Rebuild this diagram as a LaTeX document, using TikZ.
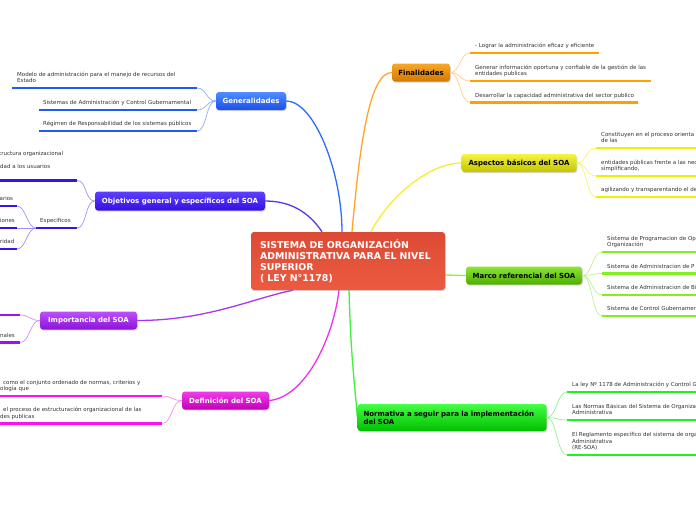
\documentclass[tikz,border=0pt]{standalone}
\usepackage{fontspec}
\setmainfont{DejaVu Sans}
\usetikzlibrary{shadows,backgrounds}
\definecolor{cenT}{HTML}{DC4A35}\definecolor{cenB}{HTML}{EC5B40}
\definecolor{genT}{HTML}{4F8DFF}\definecolor{genB}{HTML}{1B4FEA}\definecolor{genL}{HTML}{2E6BFF}\definecolor{genU}{HTML}{1E5AF5}
\definecolor{objT}{HTML}{5C40FF}\definecolor{objB}{HTML}{3510E0}\definecolor{objL}{HTML}{5A35F0}\definecolor{objU}{HTML}{3A10F0}
\definecolor{impT}{HTML}{BC50FF}\definecolor{impB}{HTML}{8A14D6}\definecolor{impL}{HTML}{A838F0}\definecolor{impU}{HTML}{A010F0}
\definecolor{defT}{HTML}{F23CEB}\definecolor{defB}{HTML}{C000B8}\definecolor{defL}{HTML}{F030EE}\definecolor{defU}{HTML}{FF10EE}
\definecolor{finT}{HTML}{F8A828}\definecolor{finB}{HTML}{D27800}\definecolor{finL}{HTML}{FFA628}\definecolor{finU}{HTML}{FFA000}
\definecolor{aspT}{HTML}{F4F444}\definecolor{aspB}{HTML}{C4C400}\definecolor{aspL}{HTML}{F4F030}\definecolor{aspU}{HTML}{F0F000}
\definecolor{marT}{HTML}{8EE636}\definecolor{marB}{HTML}{4DAE00}\definecolor{marL}{HTML}{90F040}\definecolor{marU}{HTML}{80F020}
\definecolor{norT}{HTML}{44FF44}\definecolor{norB}{HTML}{00BE00}\definecolor{norL}{HTML}{40F040}\definecolor{norU}{HTML}{20F020}
\definecolor{leafc}{HTML}{333333}
\newcommand\leafdp{\vrule width 0pt depth 1.2pt height 0pt}
\begin{document}
\begin{tikzpicture}[x=1pt,y=-1pt,
 topic/.style={rounded corners=3pt, inner sep=0pt, font=\fontsize{7}{8.4}\selectfont\bfseries, minimum height=18pt, drop shadow={opacity=0.3,shadow xshift=0.8pt,shadow yshift=-1.2pt}},
 leaf/.style={inner sep=0pt, anchor=south west, align=left, text=leafc, font=\fontsize{5.5}{6.6}\selectfont},
 bleaf/.style={inner sep=0pt, anchor=base west, text=leafc, font=\fontsize{5.5}{6.6}\selectfont},
 ul/.style={line width=2.6pt},
 thin/.style={line width=0.7pt},
 mainedge/.style={line width=1.3pt}]
\clip (0,0) rectangle (696,520);

% ---------- topic nodes ----------
\node[topic, top color=cenT, bottom color=cenB, minimum width=194pt, minimum height=58pt, text width=176pt, align=left, text=white, font=\fontsize{9.4}{11}\selectfont\bfseries] (c) at (348,261) {SISTEMA DE ORGANIZACIÓN\\ADMINISTRATIVA PARA EL NIVEL\\SUPERIOR\\( LEY N°1178)};
\node[topic, top color=genT, bottom color=genB, text=white, minimum width=70pt] (gen) at (251,101) {Generalidades};
\node[topic, top color=objT, bottom color=objB, text=white, minimum width=170pt, minimum height=19pt] (obj) at (180,201) {Objetivos general y específicos del SOA};
\node[topic, top color=impT, bottom color=impB, text=white, minimum width=97pt] (imp) at (88.5,320.5) {Importancia del SOA};
\node[topic, top color=defT, bottom color=defB, text=white, minimum width=87pt] (def) at (225.5,400.5) {Definición del SOA};
\node[topic, top color=finT, bottom color=finB, text=black, minimum width=58pt] (fin) at (421,72.5) {Finalidades};
\node[topic, top color=aspT, bottom color=aspB, text=black, minimum width=115pt] (asp) at (519,163) {Aspectos básicos del SOA};
\node[topic, top color=marT, bottom color=marB, text=black, minimum width=116pt] (mar) at (524,275.5) {Marco referencial del SOA};
\node[topic, top color=norT, bottom color=norB, text=black, minimum width=189pt, minimum height=27pt, text width=177pt, align=left] (nor) at (452,417.5) {Normativa a seguir para la implementación\\del SOA};

% ---------- background and main edges (behind nodes) ----------
\begin{pgfonlayer}{background}
\fill[white] (0,0) rectangle (696,520);
\draw[mainedge,genL] (gen.east) .. controls +(28,0) and +(0,-60) .. ([xshift=-6pt]c.north);
\draw[mainedge,objL] (obj.east) .. controls +(30,0) and +(-10,-15) .. ([xshift=-26pt]c.north);
\draw[mainedge,impL] (imp.east) .. controls +(70,0) and +(-40,8) .. ([xshift=-55pt]c.south);
\draw[mainedge,defL] (def.east) .. controls +(35,-3) and +(-6,50) .. ([xshift=-9pt]c.south);
\draw[mainedge,norL] ([xshift=1pt]c.south) .. controls +(2,70) and +(-3,-40) .. (nor.west);
\draw[mainedge,finL] ([xshift=4pt]c.north) .. controls +(8,-90) and +(-22,0) .. (fin.west);
\draw[mainedge,aspL] ([xshift=23pt]c.north) .. controls +(18,-35) and +(-32,0) .. (asp.west);
\draw[mainedge,marL] ([yshift=-14pt]c.east) .. controls +(10,0) and +(-10,0) .. (mar.west);
\end{pgfonlayer}

% ---------- leaves ----------
% Generalidades
\coordinate (g1a) at (12,88); \coordinate (g1b) at (197,88);
\coordinate (g2a) at (39,110); \coordinate (g2b) at (197,110);
\coordinate (g3a) at (39,131); \coordinate (g3b) at (197,131);
\foreach \i in {1,2,3} \draw[ul,genU] (g\i a) -- (g\i b);
\node[leaf] (g1) at (17,84) {Modelo de administración para el manejo de recursos del\\Estado\leafdp};
\node[leaf] (g2) at (43,106) {Sistemas de Administración y Control Gubernamental\leafdp};
\node[leaf] (g3) at (43,127) {Régimen de Responsabilidad de los sistemas públicos\leafdp};
\foreach \i in {1,2,3} \draw[thin,genL!55!white] (gen.west) .. controls +(-10,0) and +(10,0) .. (g\i b);

% Objetivos
\coordinate (o1a) at (0,180.5); \coordinate (o1b) at (77,180.5);
\coordinate (o2a) at (36,228); \coordinate (o2b) at (77,228);
\draw[ul,objU] (o1a) -- (o1b);
\draw[ul,objU] (o2a) -- (o2b);
\node[bleaf] (o1x) at (-1,155.5) {tructura organizacional};
\node[bleaf] (o1y) at (0,168.5) {dad a los usuarios};
\node[leaf] (o2) at (40,224) {Especificos\leafdp};
\draw[thin,objL!55!white] (obj.west) .. controls +(-10,0) and +(10,0) .. (o1b);
\draw[thin,objL!55!white] (obj.west) .. controls +(-10,0) and +(10,0) .. (o2b);
\coordinate (e1a) at (0,206); \coordinate (e1b) at (17,206);
\coordinate (e2a) at (0,228); \coordinate (e2b) at (17,228);
\coordinate (e3a) at (0,249); \coordinate (e3b) at (17,249);
\foreach \i in {1,2,3} \draw[ul,objU] (e\i a) -- (e\i b);
\node[leaf] (e1) at (-0.5,202) {arios\leafdp};
\node[leaf] (e2) at (0,224) {iones\leafdp};
\node[leaf] (e3) at (0,245) {ridad\leafdp};
\foreach \i in {1,2,3} \draw[thin,objL!55!white] (o2a) .. controls +(-9,0) and +(9,0) .. (e\i b);

% Importancia
\coordinate (i1a) at (0,315); \coordinate (i1b) at (20,315);
\coordinate (i2a) at (0,342.5); \coordinate (i2b) at (20,342.5);
\draw[ul,impU] (i1a) -- (i1b);
\draw[ul,impU] (i2a) -- (i2b);
\node[leaf] (i2) at (0,338.5) {nales\leafdp};
\foreach \i in {1,2} \draw[thin,impL!55!white] (imp.west) .. controls +(-10,0) and +(10,0) .. (i\i b);

% Definicion
\coordinate (d1a) at (0,396); \coordinate (d1b) at (162,396);
\coordinate (d2a) at (0,423.5); \coordinate (d2b) at (162,423.5);
\draw[ul,defU] (d1a) -- (d1b);
\draw[ul,defU] (d2a) -- (d2b);
\node[leaf] (d1) at (0,392) {\hspace*{3pt}como el conjunto ordenado de normas, criterios y\\ología que\leafdp};
\node[leaf] (d2) at (0,419.5) {\hspace*{3pt}el proceso de estructuración organizacional de las\\des publicas\leafdp};
\foreach \i in {1,2} \draw[thin,defL!55!white] (def.west) .. controls +(-10,0) and +(10,0) .. (d\i b);

% Finalidades
\coordinate (f1a) at (470,53); \coordinate (f1b) at (599,53);
\coordinate (f2a) at (470,81); \coordinate (f2b) at (651,81);
\coordinate (f3a) at (470,102.5); \coordinate (f3b) at (638,102.5);
\foreach \i in {1,2,3} \draw[ul,finU] (f\i a) -- (f\i b);
\node[leaf] (f1) at (475,49) {- Lograr la administración eficaz y eficiente\leafdp};
\node[leaf] (f2) at (475,77) {Generar información oportuna y confiable de la gestión de las\\entidades publicas\leafdp};
\node[leaf] (f3) at (475,98.5) {Desarrollar la capacidad administrativa del sector publico\leafdp};
\foreach \i in {1,2,3} \draw[thin,finL!55!white] (fin.east) .. controls +(10,0) and +(-10,0) .. (f\i a);

% Aspectos
\coordinate (a1a) at (596,148); \coordinate (a1b) at (700,148);
\coordinate (a2a) at (596,176); \coordinate (a2b) at (700,176);
\coordinate (a3a) at (596,197); \coordinate (a3b) at (700,197);
\foreach \i in {1,2,3} \draw[ul,aspU] (a\i a) -- (a\i b);
\node[leaf] (a1) at (601,144) {Constituyen en el proceso orienta\\de las\leafdp};
\node[leaf] (a2) at (601,172) {entidades públicas frente a las nec\\simplificando,\leafdp};
\node[leaf] (a3) at (601,193) {agilizando y transparentando el de\leafdp};
\foreach \i in {1,2,3} \draw[thin,aspL!70!white] (asp.east) .. controls +(10,0) and +(-10,0) .. (a\i a);

% Marco referencial
\coordinate (m1a) at (602,252); \coordinate (m1b) at (700,252);
\coordinate (m2a) at (602,273.5); \coordinate (m2b) at (700,273.5);
\coordinate (m3a) at (602,295); \coordinate (m3b) at (700,295);
\coordinate (m4a) at (602,316); \coordinate (m4b) at (700,316);
\foreach \i in {1,2,3,4} \draw[ul,marU] (m\i a) -- (m\i b);
\node[leaf] (m1) at (607,248) {Sistema de Programacion de Op\\Organización\leafdp};
\node[leaf] (m2) at (607,269.5) {Sistema de Administracion de P\leafdp};
\node[leaf] (m3) at (607,291) {Sistema de Administracion de Bi\leafdp};
\node[leaf] (m4) at (607,312) {Sistema de Control Gubernamen\leafdp};
\foreach \i in {1,2,3,4} \draw[thin,marL!60!white] (mar.east) .. controls +(10,0) and +(-10,0) .. (m\i a);

% Normativa
\coordinate (n1a) at (567,392); \coordinate (n1b) at (700,392);
\coordinate (n2a) at (567,420); \coordinate (n2b) at (700,420);
\coordinate (n3a) at (567,455); \coordinate (n3b) at (700,455);
\foreach \i in {1,2,3} \draw[ul,norU] (n\i a) -- (n\i b);
\node[leaf] (n1) at (572,388) {La ley Nº 1178 de Administración y Control G\leafdp};
\node[leaf] (n2) at (572,416) {Las Normas Básicas del Sistema de Organiza\\Administrativa\leafdp};
\node[leaf] (n3) at (572,451) {El Reglamento específico del sistema de orga\\Administrativa\\(RE-SOA)\leafdp};
\foreach \i in {1,2,3} \draw[thin,norL!60!white] (nor.east) .. controls +(10,0) and +(-10,0) .. (n\i a);
\end{tikzpicture}
\end{document}
